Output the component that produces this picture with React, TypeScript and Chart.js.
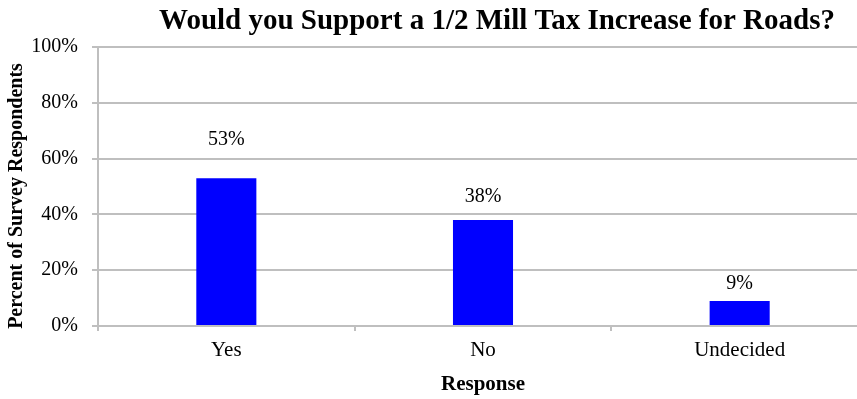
import React, { useEffect, useRef } from "react";
import { Chart, registerables } from "chart.js";

Chart.register(...registerables);

const categories = ["Yes", "No", "Undecided"];
const values = [53, 38, 9];
const yTicks = [0, 20, 40, 60, 80, 100];
const chartTitle = "Would you Support a 1/2 Mill Tax Increase for Roads?";
const yTitle = "Percent of Survey Respondents";
const xTitle = "Response";

const FONT = "'Liberation Serif', 'Times New Roman', serif";
const GRID = "#bfbfbf";
const labelGaps = [38, 23, 17];

const textPlugin = {
  id: "textPlugin",
  afterDatasetsDraw(chart: any) {
    const ctx = chart.ctx;
    ctx.save();
    // title
    ctx.fillStyle = "#000";
    ctx.font = `bold 29px ${FONT}`;
    ctx.textAlign = "center";
    ctx.textBaseline = "alphabetic";
    ctx.fillText(chartTitle, 497, 29);
    // y title
    ctx.save();
    ctx.translate(17, 196);
    ctx.rotate(-Math.PI / 2);
    ctx.font = `bold 20px ${FONT}`;
    ctx.textBaseline = "middle";
    ctx.fillText(yTitle, 0, 0);
    ctx.restore();
    // data labels
    const meta = chart.getDatasetMeta(0);
    ctx.font = `20px ${FONT}`;
    ctx.textAlign = "center";
    ctx.textBaseline = "middle";
    meta.data.forEach((bar: any, i: number) => {
      ctx.fillText(values[i] + "%", bar.x, bar.y - labelGaps[i]);
    });
    ctx.restore();
  },
};

export default function App() {
  const ref = useRef<HTMLCanvasElement>(null);
  useEffect(() => {
    if (!ref.current) return;
    const chart = new Chart(ref.current, {
      type: "bar",
      data: {
        labels: categories,
        datasets: [
          {
            data: values,
            backgroundColor: "#0000ff",
            borderWidth: 0,
            barPercentage: 1,
            categoryPercentage: 0.234,
          },
        ],
      },
      options: {
        responsive: false,
        animation: false,
        devicePixelRatio: 1,
        layout: { padding: { top: 47, right: 2, left: 0, bottom: 0 } },
        plugins: {
          legend: { display: false },
          tooltip: { enabled: false },
          title: { display: false },
        },
        scales: {
          x: {
            grid: {
              display: true,
              drawOnChartArea: false,
              drawTicks: true,
              tickLength: 5,
              color: GRID,
              lineWidth: 2,
            },
            border: { color: GRID, width: 2 },
            ticks: {
              color: "#000",
              font: { family: FONT, size: 21 },
              padding: 7,
            },
            title: {
              display: true,
              text: xTitle,
              color: "#000",
              font: { family: FONT, size: 21, weight: "bold" },
              padding: { top: 0, bottom: 2 },
            },
            afterFit(scale: any) {
              scale.height = 73;
            },
          },
          y: {
            min: 0,
            max: 100,
            afterBuildTicks(scale: any) {
              scale.ticks = yTicks.map((v) => ({ value: v }));
            },
            grid: {
              color: GRID,
              lineWidth: 2,
              drawTicks: true,
              tickLength: 6,
            },
            border: { color: GRID, width: 2 },
            ticks: {
              color: "#000",
              font: { family: FONT, size: 20 },
              padding: 14,
              callback: (v: any) => v + "%",
            },
            afterFit(scale: any) {
              scale.width = 98;
            },
          },
        },
      },
      plugins: [textPlugin],
    });
    return () => chart.destroy();
  }, []);
  return (
    <div
      style={{
        position: "absolute",
        left: 0,
        top: 0,
        width: 857,
        height: 399,
        overflow: "hidden",
        background: "#fff",
      }}
    >
      <canvas ref={ref} width={870} height={399} style={{ width: 870, height: 399 }} />
    </div>
  );
}
